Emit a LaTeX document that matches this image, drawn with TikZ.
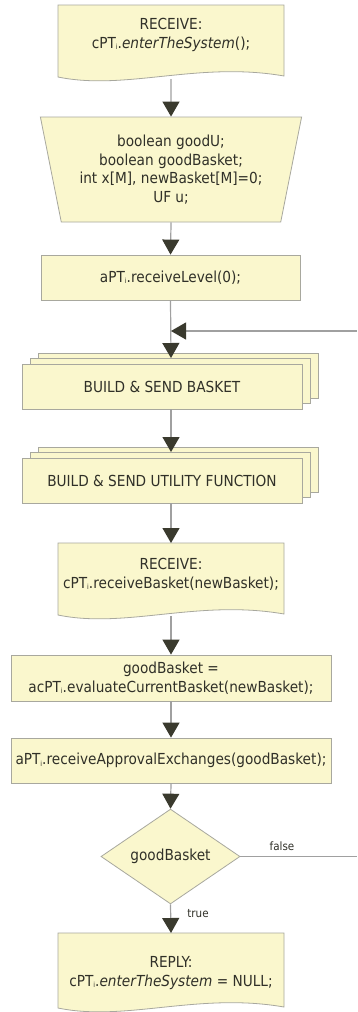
\documentclass[tikz,border=0pt]{standalone}
\usepackage{fontspec}
\setmainfont{DejaVu Sans Condensed}
\usetikzlibrary{shapes.geometric,shadows,arrows.meta}
\definecolor{boxfill}{RGB}{250,247,205}
\definecolor{boxline}{RGB}{168,168,158}
\definecolor{flowline}{RGB}{160,160,160}
\definecolor{tipfill}{RGB}{58,58,46}
\definecolor{txt}{RGB}{48,48,40}
\newcommand{\PTi}{PT\raisebox{-1.5pt}{\fontsize{7}{7}\selectfont i}}
% wavy document box: left x, top y, bottom y of the sides
\newcommand{\docshape}[3]{%
\filldraw [fill=boxfill, draw=boxline, line width=0.8pt] (#1,#2) -- (#1+226,#2) -- (#1+226,#3+1)
  .. controls (#1+140,#3+16) and (#1+68,#3-14) .. (#1,#3) -- cycle;}

\begin{document}
\begin{tikzpicture}[x=1pt,y=1pt,
  font=\fontsize{15.2}{18.5}\selectfont,
  every node/.style={inner sep=0pt, text=txt, align=center},
  box/.style={rectangle, draw=boxline, fill=boxfill, line width=0.8pt},
  stack/.style={box,
    copy shadow={shadow xshift=16pt, shadow yshift=11pt, fill=boxfill, draw=boxline, line width=0.8pt},
    copy shadow={shadow xshift=8pt, shadow yshift=5.5pt, fill=boxfill, draw=boxline, line width=0.8pt}},
  flow/.style={draw=flowline, line width=1.2pt, -{Triangle[width=17pt,length=15pt,color=tipfill]}},
  lbl/.style={font=\fontsize{11.5}{13}\selectfont}]
\fill [white] (0,0) rectangle (357,-1012);
\useasboundingbox (0,0) rectangle (357,-1012);

% boxes
\docshape{58}{-5}{-77}
\node (enter) at (171,-35) {RECEIVE:\\ c\PTi.\textit{enterTheSystem}();};
\coordinate (enter-b) at (171,-79);
\node [box, trapezium, trapezium left angle=104.2, trapezium right angle=104.2,
  trapezium stretches=true, minimum width=262pt, minimum height=105pt] (decl) at (171,-169.5)
  {boolean goodU;\\ boolean goodBasket;\\ int x[M], newBasket[M]=0;\\ UF u;};
\node [box, minimum width=259pt, minimum height=45pt] (level) at (170.5,-277.5) {a\PTi.receiveLevel(0);};
\node [stack, minimum width=280pt, minimum height=45pt] (basket) at (162,-386.5) {BUILD \& SEND BASKET};
\node [stack, minimum width=280pt, minimum height=45pt] (utility) at (162,-480.5) {BUILD \& SEND UTILITY FUNCTION};
\docshape{58}{-543}{-615}
\node (recv) at (171,-574.5) {RECEIVE:\\ c\PTi.receiveBasket(newBasket);};
\coordinate (recv-t) at (171,-543);
\coordinate (recv-b) at (171,-616);
\node [box, minimum width=320pt, minimum height=46pt] (eval) at (171,-678) {goodBasket =\\ ac\PTi.evaluateCurrentBasket(newBasket);};
\node [box, minimum width=320pt, minimum height=45pt] (approve) at (171,-760.5) {a\PTi.receiveApprovalExchanges(goodBasket);};
\node [box, diamond, minimum width=139pt, minimum height=83pt] (test) at (170.5,-856.5) {goodBasket};
\docshape{58}{-933}{-1008}
\node (reply) at (171,-973) {REPLY:\\ c\PTi.\textit{enterTheSystem} = NULL;};
\coordinate (reply-t) at (171,-933);

% loop back from the right edge
\coordinate (loop-in) at (171,-331);
\coordinate (loop-r) at (357,-331);
\coordinate (false-r) at (357,-856.5);

% flow
\draw [flow] (enter-b) -- (decl.north);
\draw [flow] (decl.south) -- (level.north);
\draw [flow] (level.south) -- (171,-358);
\draw [flow] (loop-r) -- (loop-in);
\draw [flow] (basket.south -| loop-in) -- (171,-452);
\draw [flow] (utility.south -| loop-in) -- (recv-t);
\draw [flow] (recv-b) -- (eval.north);
\draw [flow] (eval.south) -- (approve.north);
\draw [flow] (approve.south) -- (test.north);
\draw [flow] (test.south) -- (reply-t);
\draw [draw=flowline, line width=1.2pt] (test.east) -- (false-r);
\node [lbl] (f) at (282,-846) {false};
\node [lbl] (t) at (198,-914) {true};
\end{tikzpicture}
\end{document}
